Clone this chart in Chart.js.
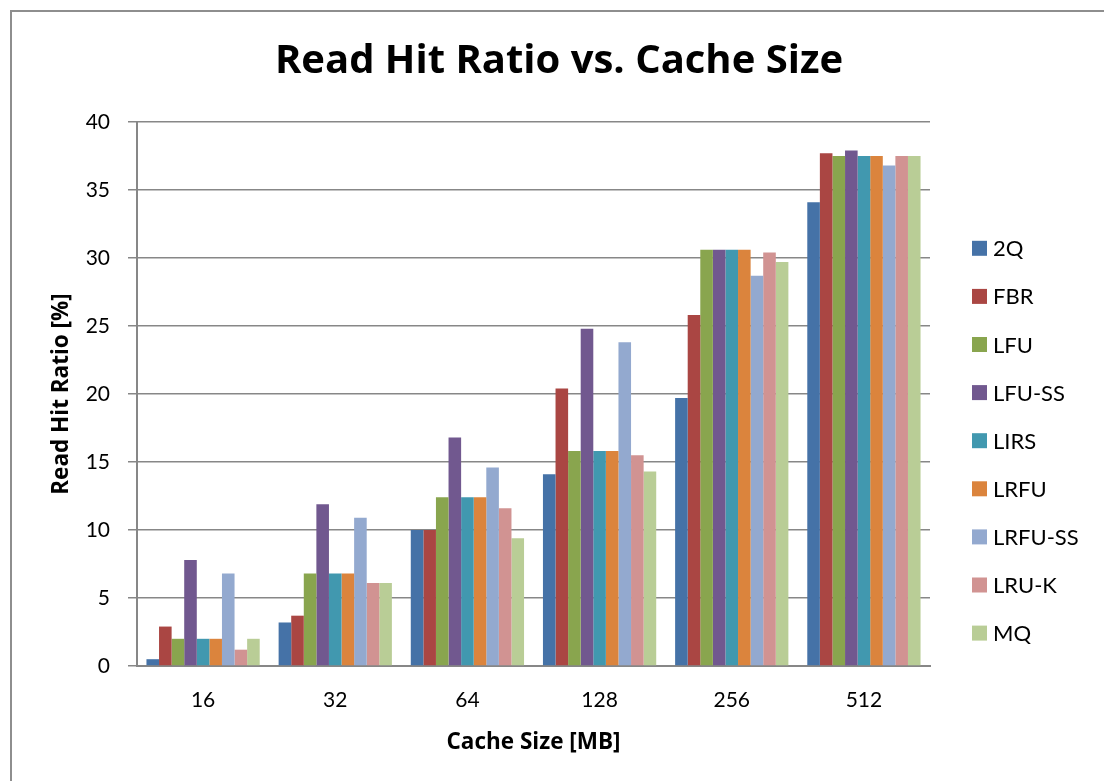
<!DOCTYPE html>
<html>
<head>
<meta charset="utf-8">
<script src="https://cdn.jsdelivr.net/npm/chart.js@4/dist/chart.umd.min.js"></script>
<style>
  html, body { margin: 0; padding: 0; background: #fff; }
  #wrap { position: relative; width: 1104px; height: 781px; overflow: hidden; }
  #frame { position: absolute; left: 10px; top: 10px; width: 1200px; height: 900px;
           border: 2px solid #8e8e8e; box-sizing: border-box; }
  #c { position: absolute; left: 0; top: 0; }
</style>
</head>
<body>
<div id="wrap">
  <div id="frame"></div>
  <canvas id="c" width="1104" height="781"></canvas>
</div>
<script>
// Cache sizes (MB) on the category axis
const cacheSizes = ['16', '32', '64', '128', '256', '512'];

// Read hit ratio [%] per replacement policy, one value per cache size
const hit2Q     = [0.5, 3.2, 10.0, 14.1, 19.7, 34.1];
const hitFBR    = [2.9, 3.7, 10.0, 20.4, 25.8, 37.7];
const hitLFU    = [2.0, 6.8, 12.4, 15.8, 30.6, 37.5];
const hitLFUSS  = [7.8, 11.9, 16.8, 24.8, 30.6, 37.9];
const hitLIRS   = [2.0, 6.8, 12.4, 15.8, 30.6, 37.5];
const hitLRFU   = [2.0, 6.8, 12.4, 15.8, 30.6, 37.5];
const hitLRFUSS = [6.8, 10.9, 14.6, 23.8, 28.7, 36.8];
const hitLRUK   = [1.2, 6.1, 11.6, 15.5, 30.4, 37.5];
const hitMQ     = [2.0, 6.1, 9.4, 14.3, 29.7, 37.5];

const policyNames = ['2Q', 'FBR', 'LFU', 'LFU-SS', 'LIRS', 'LRFU', 'LRFU-SS', 'LRU-K', 'MQ'];
const policyData  = [hit2Q, hitFBR, hitLFU, hitLFUSS, hitLIRS, hitLRFU, hitLRFUSS, hitLRUK, hitMQ];
const policyColors = ['#4572A7', '#AA4643', '#89A54E', '#71588F', '#4198AF',
                      '#DB843D', '#93A9CF', '#D19392', '#B9CD96'];

// y-axis tick values
const yTicks = [0, 5, 10, 15, 20, 25, 30, 35, 40];

const FONT = 'Lato, "Open Sans", sans-serif';
const TITLE_FONT = '"Open Sans", Lato, sans-serif';
const GRID = '#878787';

// Legend drawn as a vertical list to the right of the plot
const sideLegend = {
  id: 'sideLegend',
  afterDraw(chart) {
    const ctx = chart.ctx;
    const area = chart.chartArea;
    const boxX = area.right + 42;
    const firstY = 248.3;
    const step = 48.1;
    ctx.save();
    ctx.font = '22px ' + FONT;
    ctx.textBaseline = 'middle';
    ctx.textAlign = 'left';
    chart.data.datasets.forEach((ds, i) => {
      const cy = firstY + i * step;
      ctx.fillStyle = ds.backgroundColor;
      ctx.fillRect(boxX, cy - 7.5, 15, 15);
      ctx.fillStyle = '#000';
      ctx.fillText(ds.label, boxX + 21, cy + 1);
    });
    ctx.restore();
  }
};

new Chart(document.getElementById('c'), {
  type: 'bar',
  data: {
    labels: cacheSizes,
    datasets: policyNames.map((name, i) => ({
      label: name,
      data: policyData[i],
      backgroundColor: policyColors[i],
      borderWidth: 0,
      categoryPercentage: 0.857,
      barPercentage: 1.0
    }))
  },
  plugins: [sideLegend],
  options: {
    responsive: false,
    animation: false,
    layout: { padding: { left: 14, right: 0, top: 0, bottom: 0 } },
    plugins: {
      legend: { display: false },
      tooltip: { enabled: false },
      title: {
        display: true,
        text: 'Read Hit Ratio vs. Cache Size',
        color: '#000',
        font: { family: TITLE_FONT, size: 40, weight: 'bold', lineHeight: 1.2 },
        padding: { top: 38, bottom: 36 }
      }
    },
    scales: {
      x: {
        grid: { display: false, drawTicks: false },
        border: { display: true, color: GRID, width: 2 },
        ticks: { color: '#000', font: { family: FONT, size: 21 }, padding: 22, maxRotation: 0 },
        title: {
          display: true, text: 'Cache Size [MB]', color: '#000',
          font: { family: TITLE_FONT, size: 22.5, weight: 'bold', lineHeight: 1.2 },
          padding: { top: 0, bottom: 25 }
        },
        afterFit(s) { s.height = 115; }
      },
      y: {
        min: 0, max: 40,
        afterBuildTicks(s) { s.ticks = yTicks.map(v => ({ value: v })); },
        grid: { color: GRID, lineWidth: 1.5, tickLength: 9, drawTicks: true, tickColor: GRID },
        border: { display: true, color: GRID, width: 2 },
        ticks: { color: '#000', font: { family: FONT, size: 21 }, padding: 18 },
        title: {
          display: true, text: 'Read Hit Ratio [%]', color: '#000',
          font: { family: TITLE_FONT, size: 22.5, weight: 'bold', lineHeight: 1.2 },
          padding: { top: 34, bottom: 0 }
        },
        afterFit(s) { s.width = 123; }
      },
      // empty axis that reserves the legend column on the right
      legendSpace: {
        type: 'linear',
        position: 'right',
        display: true,
        grid: { display: false, drawTicks: false },
        border: { display: false },
        ticks: { display: false },
        afterFit(s) { s.width = 174; }
      }
    }
  }
});
</script>
</body>
</html>
